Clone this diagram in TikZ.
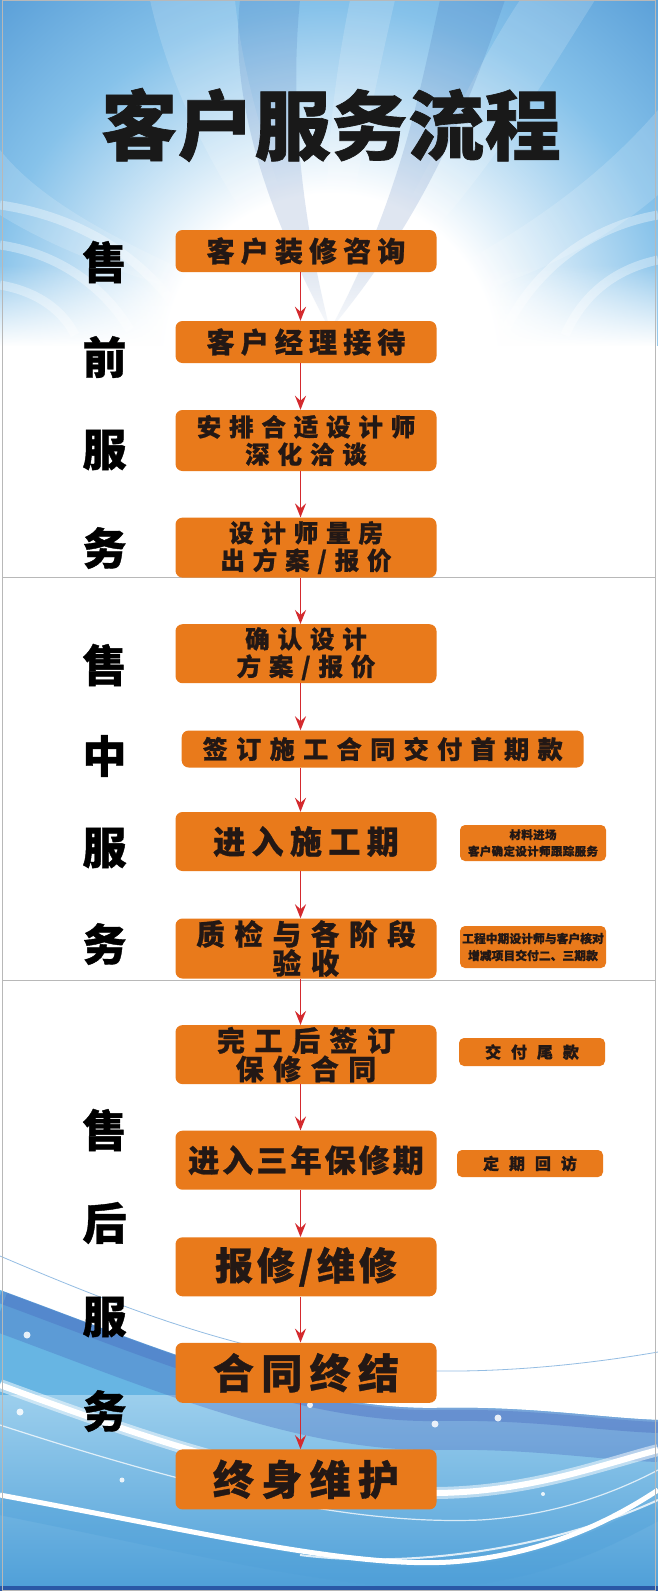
\documentclass[tikz,border=0pt]{standalone}
\usepackage{fontspec}
\newfontfamily\cjk{Noto Sans CJK SC}
\usetikzlibrary{arrows.meta,fadings}
\definecolor{boxor}{HTML}{E97A1B}
\definecolor{txt}{HTML}{231815}
\definecolor{arr}{HTML}{D42A2E}
\definecolor{skyA}{HTML}{2A58A6}
\definecolor{skyB}{HTML}{3D88CC}
\definecolor{skyL}{HTML}{86C2EA}
\definecolor{waveD}{HTML}{4A6CC0}
\definecolor{waveL}{HTML}{67B5E3}
\definecolor{waveM}{HTML}{4E9FD8}
\definecolor{sep}{HTML}{B8B8B8}
\pgfdeclareradialshading{skyrad}{\pgfpoint{0bp}{0bp}}{color(0bp)=(white); color(8bp)=(white); color(17bp)=(skyL); color(28bp)=(skyB); color(50bp)=(skyA)}
\tikzfading[name=fadeup, top color=transparent!100, bottom color=transparent!0]
\newcommand\bx[3]{\cjk\bfseries\fontsize{#1}{#2}\selectfont\addfontfeatures{LetterSpace=#3,FakeBold=0.9}}
\tikzset{
  mainbox/.style={fill=boxor, rounded corners=7pt, minimum width=261pt, inner sep=0pt, align=center, text=txt},
  sidebox/.style={fill=boxor, rounded corners=5pt, minimum width=146pt, inner sep=0pt, align=center, text=txt},
  sidelbl/.style={text=black, inner sep=0pt, font=\bx{44}{46}{0}},
  flow/.style={draw=arr, line width=1.8pt, -{Stealth[length=14pt,width=11pt,inset=5pt]}},
  petal/.style={fill=white, opacity=0.16},
  arcw/.style={draw=white, opacity=0.35, line width=9pt},
  dot/.style={fill=white, opacity=0.85}
}
\begin{document}
\begin{tikzpicture}[x=1pt,y=-1pt]
\useasboundingbox (0,0) rectangle (658,1591);
\fill[white] (0,0) rectangle (658,1591);
% ---- top sky ----
\begin{scope}
  \clip (0,0) rectangle (658,345);
  \shade[shading=skyrad] (330,360) circle[radius=520pt];
  \fill[petal] (330,330) .. controls (220,200) and (170,90) .. (150,0) -- (235,0) .. controls (245,100) and (285,210) .. (330,330) -- cycle;
  \fill[petal] (330,330) .. controls (120,250) and (40,200) .. (0,150) -- (0,215) .. controls (80,265) and (200,300) .. (330,330) -- cycle;
  \fill[petal] (330,330) .. controls (420,200) and (460,90) .. (520,0) -- (595,0) .. controls (525,110) and (465,220) .. (330,330) -- cycle;
  \fill[petal] (330,330) .. controls (480,260) and (580,200) .. (658,110) -- (658,195) .. controls (580,262) and (480,300) .. (330,330) -- cycle;
  \fill[petal] (330,330) .. controls (320,200) and (330,100) .. (350,0) -- (395,0) .. controls (372,100) and (352,200) .. (330,330) -- cycle;
  \fill[skyA, opacity=0.15] (330,330) .. controls (260,200) and (230,90) .. (240,0) -- (300,0) .. controls (290,100) and (300,210) .. (330,330) -- cycle;
  \fill[skyA, opacity=0.15] (330,330) .. controls (400,200) and (420,90) .. (440,0) -- (505,0) .. controls (470,100) and (430,210) .. (330,330) -- cycle;
  \draw[arcw] (0,205) .. controls (70,215) and (140,250) .. (185,320);
  \draw[arcw] (0,245) .. controls (50,252) and (100,280) .. (130,330);
  \draw[arcw] (0,285) .. controls (30,290) and (60,305) .. (75,335);
  \draw[arcw] (658,215) .. controls (600,225) and (540,260) .. (505,330);
  \draw[arcw] (658,260) .. controls (620,268) and (585,290) .. (565,335);
  \fill[white, path fading=fadeup] (0,265) rectangle (658,346);
\end{scope}
% ---- bottom waves ----
\begin{scope}
  \clip (0,1200) rectangle (658,1591);
  \draw[skyB!55, line width=0.8pt] (0,1256) .. controls (150,1320) and (280,1368) .. (436,1371) .. controls (520,1372) and (600,1362) .. (658,1352);
  \begin{scope}
    \clip (0,1290) .. controls (150,1345) and (300,1410) .. (436,1408) .. controls (530,1406) and (600,1418) .. (658,1420) -- (658,1591) -- (0,1591) -- cycle;
    \fill[waveL] (0,1200) rectangle (658,1591);
    \shade[top color=waveL!65!white, bottom color=waveM] (0,1395) rectangle (658,1591);
    \draw[waveD, opacity=0.35, line width=40pt] (0,1312) .. controls (150,1367) and (300,1432) .. (436,1430) .. controls (530,1428) and (600,1440) .. (658,1442);
    \draw[waveD, opacity=0.4, line width=14pt] (0,1296) .. controls (150,1351) and (300,1416) .. (436,1414) .. controls (530,1412) and (600,1424) .. (658,1426);
    \draw[waveM, opacity=0.35, line width=20pt] (0,1505) .. controls (200,1545) and (350,1583) .. (450,1577) .. controls (550,1570) and (620,1530) .. (658,1510);
  \end{scope}
  \draw[white, opacity=0.5, line width=12pt] (0,1385) .. controls (150,1440) and (300,1492) .. (436,1493) .. controls (530,1492) and (600,1465) .. (658,1450);
  \draw[white, line width=6pt] (0,1385) .. controls (150,1440) and (300,1492) .. (436,1493) .. controls (530,1492) and (600,1465) .. (658,1450);
  \draw[white, opacity=0.75, line width=1.2pt] (0,1425) .. controls (200,1490) and (350,1525) .. (480,1520) .. controls (560,1515) and (620,1490) .. (658,1470);
  \draw[white, line width=5pt] (0,1495) .. controls (200,1532) and (350,1568) .. (450,1562) .. controls (550,1555) and (620,1515) .. (658,1490);
  \draw[white, opacity=0.8, line width=2pt] (300,1555) .. controls (420,1570) and (560,1545) .. (658,1500);
  \fill[dot] (27,1335) circle[radius=3.5pt];
  \fill[dot] (20,1412) circle[radius=3.5pt];
  \fill[dot] (435,1424) circle[radius=3.5pt];
  \fill[dot] (498,1418) circle[radius=3.5pt];
  \fill[dot] (122,1480) circle[radius=2.5pt];
  \fill[dot] (197,1500) circle[radius=2.5pt];
  \fill[dot] (543,1494) circle[radius=2pt];
  \fill[dot] (310,1405) circle[radius=3pt];
  \fill[skyA] (0,1586) rectangle (658,1591);
\end{scope}
% ---- frame and separators ----
\draw[sep, line width=1pt] (2.5,0.5) rectangle (655.5,1590.5);
\draw[sep, line width=1.3pt] (2.5,577.5) -- (655.5,577.5);
\draw[sep, line width=1.3pt] (2.5,980.5) -- (655.5,980.5);
% ---- title ----
\node[text=black!90, font=\bx{76}{78}{1}] (title) at (331,125) {客户服务流程};
% ---- side labels ----
\node[sidelbl] (l1) at (104.5,262) {售};
\node[sidelbl] (l2) at (104.5,357) {前};
\node[sidelbl] (l3) at (104.5,450) {服};
\node[sidelbl] (l4) at (104.5,548) {务};
\node[sidelbl] (m1) at (104.5,665) {售};
\node[sidelbl] (m2) at (104.5,756) {中};
\node[sidelbl] (m3) at (104.5,848) {服};
\node[sidelbl] (m4) at (104.5,944) {务};
\node[sidelbl] (h1) at (104.5,1130) {售};
\node[sidelbl] (h2) at (104.5,1223) {后};
\node[sidelbl] (h3) at (104.5,1317) {服};
\node[sidelbl] (h4) at (104.5,1411) {务};
% ---- main flow boxes ----
\node[mainbox, minimum height=42pt, font=\bx{28}{30}{22}] (b1) at (306,251) {客户装修咨询};
\node[mainbox, minimum height=42pt, font=\bx{28}{30}{22}] (b2) at (306,342) {客户经理接待};
\node[mainbox, minimum height=61pt, font=\bx{24.5}{27.5}{32}] (b3) at (306,440.5) {安排合适设计师\\深化洽谈};
\node[mainbox, minimum height=60pt, font=\bx{24.5}{27.5}{32}] (b4) at (306,547.6) {设计师量房\\出方案/报价};
\node[mainbox, minimum height=59pt, font=\bx{24.5}{27.5}{32}] (b5) at (306,653.7) {确认设计\\方案/报价};
\node[mainbox, minimum width=402pt, minimum height=37pt, font=\bx{25}{27}{34}] (b6) at (382.7,749) {签订施工合同交付首期款};
\node[mainbox, minimum height=59pt, font=\bx{32}{34}{20}] (b7) at (306,841.5) {进入施工期};
\node[mainbox, minimum height=60pt, font=\bx{28.5}{29}{34}] (b8) at (306,948.5) {质检与各阶段\\验收};
\node[mainbox, minimum height=59pt, font=\bx{28}{28.5}{34}] (b9) at (306,1054.6) {完工后签订\\保修合同};
\node[mainbox, minimum height=59pt, font=\bx{31}{33}{10}] (b10) at (306,1160.2) {进入三年保修期};
\node[mainbox, minimum height=59pt, font=\bx{38}{40}{10}] (b11) at (306,1266.8) {报修/维修};
\node[mainbox, minimum height=60pt, font=\bx{41}{43}{18}] (b12) at (306,1372.8) {合同终结};
\node[mainbox, minimum height=60pt, font=\bx{41}{43}{18}] (b13) at (306,1479.4) {终身维护};
% ---- side notes ----
\node[sidebox, minimum height=36pt, font=\bx{11.5}{16.5}{3}] (s1) at (533,843) {材料进场\\客户确定设计师跟踪服务};
\node[sidebox, minimum height=42pt, font=\bx{11.8}{17}{0}] (s2) at (533,947) {工程中期设计师与客户核对\\增减项目交付二、三期款};
\node[sidebox, minimum height=28pt, font=\bx{16}{18}{62}] (s3) at (532,1052) {交付尾款};
\node[sidebox, minimum height=27pt, font=\bx{16}{18}{62}] (s4) at (530,1163.5) {定期回访};
% ---- connectors ----
\coordinate (ax) at (300.5,0);
\foreach \a/\b in {b1/b2,b2/b3,b3/b4,b4/b5,b5/b6,b6/b7,b7/b8,b8/b9,b9/b10,b10/b11,b11/b12,b12/b13}
  \draw[flow] (\a.south -| ax) -- (\b.north -| ax);
\end{tikzpicture}
\end{document}
